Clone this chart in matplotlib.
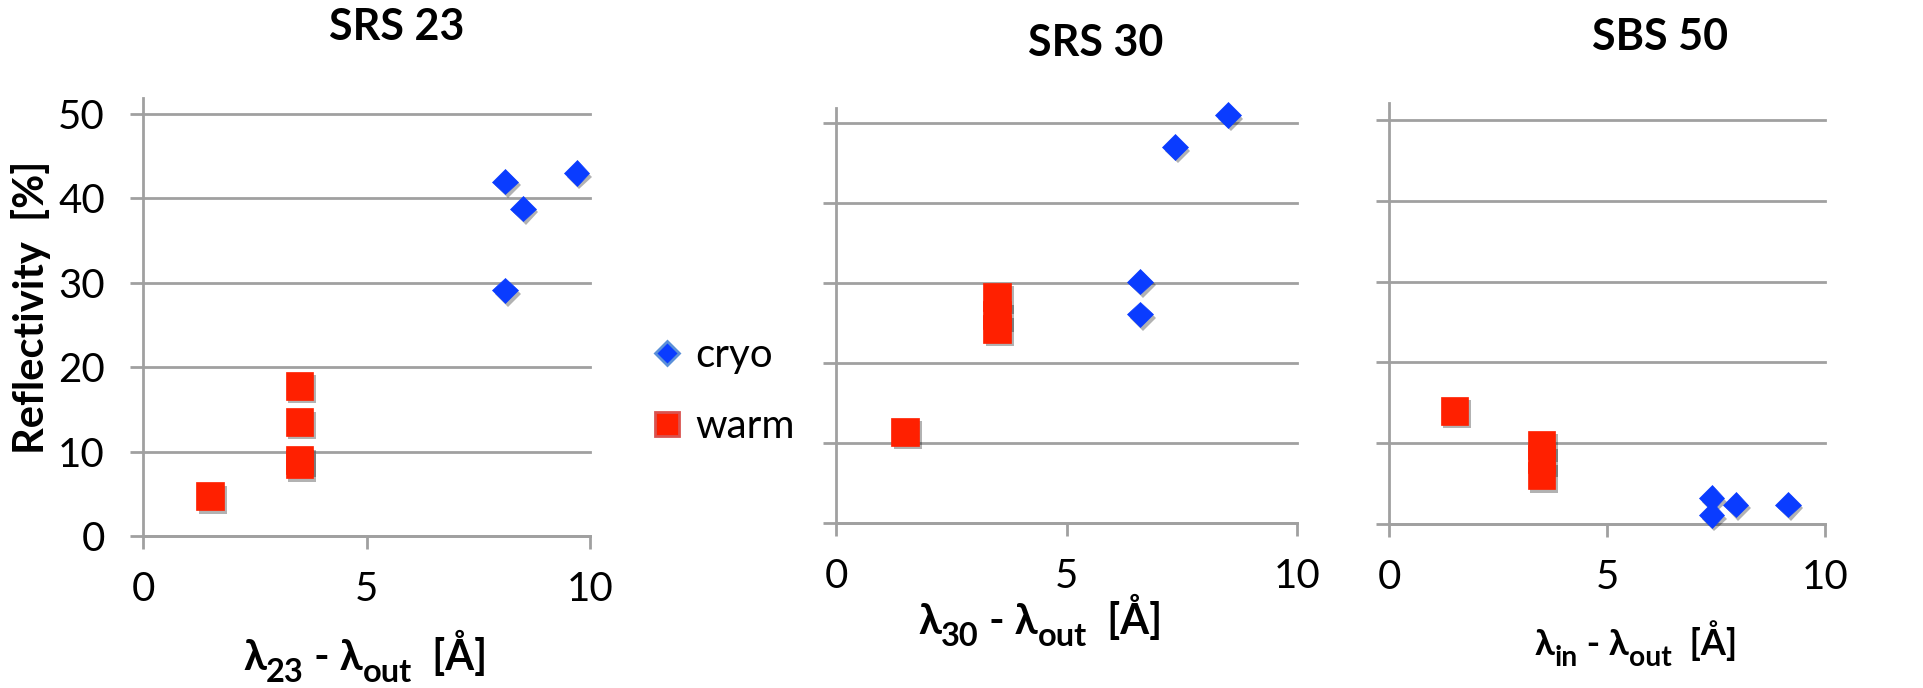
import numpy as np
import matplotlib
matplotlib.use('Agg')
import matplotlib.pyplot as plt
import matplotlib.patheffects as pe
from matplotlib.lines import Line2D

plt.rcParams['font.family'] = ['Lato', 'DejaVu Sans']

# SRS 23
srs23_cryo_x = [8.1, 8.5, 9.7, 8.1]
srs23_cryo_y = [42.0, 38.8, 43.0, 29.1]
srs23_warm_x = [1.5, 3.5, 3.5, 3.5, 3.5]
srs23_warm_y = [4.7, 17.8, 13.5, 9.0, 8.5]

# SRS 30
srs30_cryo_x = [8.5, 7.35, 6.6, 6.6]
srs30_cryo_y = [51.0, 47.0, 30.2, 26.1]
srs30_warm_x = [1.5, 3.5, 3.5, 3.5]
srs30_warm_y = [11.4, 28.3, 26.0, 24.3]

# SBS 50
sbs50_cryo_x = [7.4, 7.4, 7.95, 9.15]
sbs50_cryo_y = [3.2, 1.1, 2.4, 2.4]
sbs50_warm_x = [1.5, 3.5, 3.5, 3.5]
sbs50_warm_y = [14.0, 9.8, 8.0, 6.0]

titles = ['SRS 23', 'SRS 30', 'SBS 50']
# (text, is_subscript)
xlabels = [[('λ', False), ('23', True), (' - λ', False), ('out', True), ('  [Å]', False)],
           [('λ', False), ('30', True), (' - λ', False), ('out', True), ('  [Å]', False)],
           [('λ', False), ('in', True), (' - λ', False), ('out', True), ('  [Å]', False)]]
xticks = [0, 5, 10]
yticks = [0, 10, 20, 30, 40, 50]

blue = '#0a3cff'
red = '#ff2000'
grid_c = '#a0a0a0'

W, H = 1923, 688
fig = plt.figure(figsize=(W / 100, H / 100), dpi=100)


def sub_label(xc, ybase, parts, size):
    # lay out main text and lowered subscripts side by side, centred on xc
    r = fig.canvas.get_renderer()
    items = []
    total = 0
    for txt, sub in parts:
        fs = size * 0.78 if sub else size
        t = fig.text(0, 0, txt, fontsize=fs, fontweight='bold', va='baseline', ha='left')
        w = t.get_window_extent(r).width
        items.append((t, sub, w))
        total += w
    x = xc - total / 2
    for t, sub, w in items:
        dy = size * 0.30 * 100 / 72 if sub else 0
        t.set_position((x / W, (H - ybase - dy) / H))
        x += w


# axes boxes in pixels: left, right, y of zero, y of top, ylim top
boxes = [(143, 590, 536, 98, 51.9), (836, 1297, 523, 108, 51.9), (1389, 1825, 524, 103, 52.1)]
data = [(srs23_cryo_x, srs23_cryo_y, srs23_warm_x, srs23_warm_y),
        (srs30_cryo_x, srs30_cryo_y, srs30_warm_x, srs30_warm_y),
        (sbs50_cryo_x, sbs50_cryo_y, sbs50_warm_x, sbs50_warm_y)]

shadow = [pe.SimplePatchShadow(offset=(2, -2.5), shadow_rgbFace='k', alpha=0.3), pe.Normal()]

for i, (l, r, y0, yt, ytop) in enumerate(boxes):
    ax = fig.add_axes([l / W, (H - y0) / H, (r - l) / W, (y0 - yt) / H])
    cx, cy, wx, wy = data[i]
    ax.set_xlim(0, 10)
    ax.set_ylim(0, ytop)
    for yv in yticks:
        ax.axhline(yv, color=grid_c, lw=2.0, zorder=1, clip_on=False)
    ax.plot(wx, wy, ls='none', marker='s', ms=20, mfc=red, mec=red, mew=0.5,
            zorder=3, clip_on=False, path_effects=shadow)
    ax.plot(cx, cy, ls='none', marker='D', ms=13, mfc=blue, mec=blue, mew=0.5,
            zorder=4, clip_on=False, path_effects=shadow)
    for s in ['top', 'right']:
        ax.spines[s].set_visible(False)
    for s in ['left', 'bottom']:
        ax.spines[s].set_color(grid_c)
        ax.spines[s].set_linewidth(2.0)
    ax.set_xticks(xticks)
    ax.set_yticks(yticks)
    ax.tick_params(direction='out', length=9.5, width=2.0, color=grid_c,
                   labelsize=29, pad=18)
    ax.tick_params(axis='x', pad=16)
    if i > 0:
        ax.set_yticklabels([])

# titles
fig.text(397 / W, 1 - 27 / H, titles[0], ha='center', va='center', fontsize=31, fontweight='bold')
fig.text(1096 / W, 1 - 43 / H, titles[1], ha='center', va='center', fontsize=31, fontweight='bold')
fig.text(1660 / W, 1 - 37 / H, titles[2], ha='center', va='center', fontsize=31, fontweight='bold')

# x labels
sub_label(365, 670, xlabels[0], 30)
sub_label(1040, 634, xlabels[1], 30)
sub_label(1636, 655, xlabels[2], 26)

# y label
fig.text(31 / W, 1 - 307 / H, 'Reflectivity  [%]', rotation=90, ha='center', va='center',
         fontsize=30, fontweight='bold')

handles = [Line2D([], [], ls='none', marker='D', ms=12, mfc=blue, mec='#5b90d8', mew=2),
           Line2D([], [], ls='none', marker='s', ms=17, mfc=red, mec='#d9534f', mew=2)]
fig.legend(handles, ['cryo', 'warm'], loc='center left', bbox_to_anchor=(655 / W, 1 - 391 / H),
           frameon=False, fontsize=29, handlelength=0.6, handletextpad=0.4, labelspacing=0.85,
           borderaxespad=0, borderpad=0)

fig.savefig('out.png', dpi=100)
